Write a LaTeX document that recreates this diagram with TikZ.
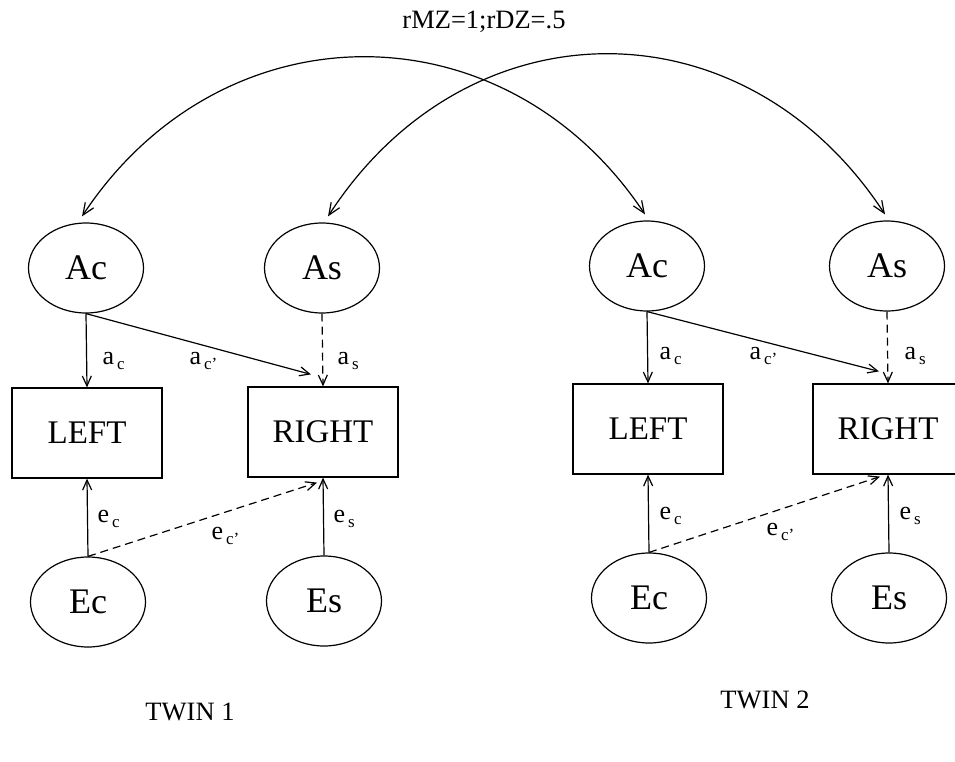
\documentclass[tikz,border=0pt]{standalone}
\usepackage{fontspec}
\setmainfont{Liberation Serif}
\usetikzlibrary{shapes.geometric,arrows.meta,calc}

% path coefficient label: letter with lowered subscript
\newcommand\sublab[2]{#1\kern3pt\raisebox{-5pt}{\fontsize{17}{17}\selectfont #2}}

\begin{document}
\begin{tikzpicture}[x=1pt,y=-1pt,line width=1.2pt,
  latent/.style={draw,ellipse,minimum width=115pt,minimum height=90pt,inner sep=0pt,
    font=\fontsize{36}{40}\selectfont},
  observed/.style={draw,rectangle,minimum width=150pt,minimum height=90pt,inner sep=0pt,
    font=\fontsize{33}{36}\selectfont},
  path/.style={-{Straight Barb[length=10pt,width=9pt]}},
  dpath/.style={path,dash pattern=on 8pt off 5pt},
  corr/.style={{Straight Barb[length=12pt,width=10pt]}-{Straight Barb[length=12pt,width=10pt]}},
  coef/.style={anchor=west,inner sep=0pt,font=\fontsize{26}{28}\selectfont},
  caption/.style={font=\fontsize{26.5}{30}\selectfont}]

\useasboundingbox (0,0) rectangle (955,762);
\clip (0,0) rectangle (955,762);

% ---- twin 1 ----
\node[latent]   (Ac1) at (86,268)  {Ac};
\node[latent]   (As1) at (322,268) {As};
\node[observed] (L1)  at (87,433)  {LEFT};
\node[observed] (R1)  at (323,432) {RIGHT};
\node[latent]   (Ec1) at (88,602)  {Ec};
\node[latent]   (Es1) at (324,601) {Es};

% ---- twin 2 ----
\node[latent]   (Ac2) at (647,266) {Ac};
\node[latent]   (As2) at (887,266) {As};
\node[observed] (L2)  at (648,429) {LEFT};
\node[observed] (R2)  at (888,429) {RIGHT};
\node[latent]   (Ec2) at (649,598) {Ec};
\node[latent]   (Es2) at (889,598) {Es};

% free ends of the cross paths, just short of the RIGHT boxes
\coordinate (t1) at ($(R1.north)+(-12,-12)$);
\coordinate (t2) at ($(R2.north)+(-9,-12)$);
\coordinate (u1) at ($(R1.south)+(-6,5)$);
\coordinate (u2) at ($(R2.south)+(-8,2)$);

% additive genetic and environmental paths
\foreach \i in {1,2}{
  \draw[path]  (Ac\i.south) -- (L\i.north);
  \draw[path]  (Ac\i.south) -- (t\i);
  \draw[dpath] (As\i.south) -- (R\i.north);
  \draw[path]  (Ec\i.north) -- (L\i.south);
  \draw[dpath] (Ec\i.north) -- (u\i);
  \draw[path]  (Es\i.north) -- (R\i.south);
}

% path coefficients, twin 1
\node[coef] (lac1)  at (102,361) {\sublab{a}{c}};
\node[coef] (lacp1) at (189,361) {\sublab{a}{c'}};
\node[coef] (las1)  at (337,361) {\sublab{a}{s}};
\node[coef] (lec1)  at (97,519)  {\sublab{e}{c}};
\node[coef] (lecp1) at (211,536) {\sublab{e}{c'}};
\node[coef] (les1)  at (333,519) {\sublab{e}{s}};

% path coefficients, twin 2
\node[coef] (lac2)  at (659,356) {\sublab{a}{c}};
\node[coef] (lacp2) at (749,356) {\sublab{a}{c'}};
\node[coef] (las2)  at (904,356) {\sublab{a}{s}};
\node[coef] (lec2)  at (659,516) {\sublab{e}{c}};
\node[coef] (lecp2) at (766,532) {\sublab{e}{c'}};
\node[coef] (les2)  at (899,516) {\sublab{e}{s}};

% cross-twin genetic correlations
\coordinate (k1) at ($(Ac1.north)+(-4,-6)$);
\coordinate (k2) at ($(Ac2.north)+(-2,-6)$);
\coordinate (m1) at ($(As1.north)+(6,-6)$);
\coordinate (m2) at ($(As2.north)+(-2,-6)$);
\draw[corr] (k1) .. controls +(140,-212) and +(-140,-210) .. (k2);
\draw[corr] (m1) .. controls +(140,-216) and +(-140,-214) .. (m2);

% captions
\node[caption] (title) at (484,22)  {rMZ=1;rDZ=.5};
\node[caption] (tw1)   at (190,712) {TWIN 1};
\node[caption] (tw2)   at (765,700) {TWIN 2};
\end{tikzpicture}
\end{document}
